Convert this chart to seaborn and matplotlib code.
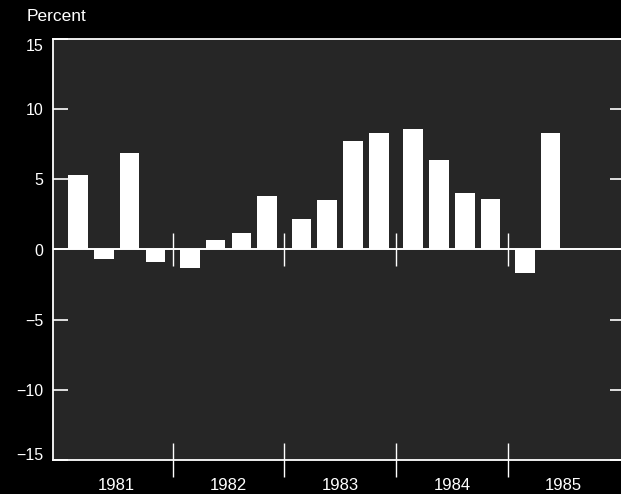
import matplotlib
matplotlib.use("Agg")
import matplotlib.pyplot as plt
import matplotlib.transforms as mtransforms
import seaborn as sns
import numpy as np
import pandas as pd

# ---- data ----
years = ["1981", "1982", "1983", "1984", "1985"]
quarters_per_year = [4, 4, 4, 4, 2]
values_1981 = [5.3, -0.7, 6.9, -0.9]
values_1982 = [-1.3, 0.7, 1.2, 3.8]
values_1983 = [2.2, 3.5, 7.7, 8.3]
values_1984 = [8.6, 6.4, 4.0, 3.6]
values_1985 = [-1.7, 8.3]
y_ticks = [-15, -10, -5, 0, 5, 10, 15]
y_label = "Percent"

all_values = [values_1981, values_1982, values_1983, values_1984, values_1985]

# ---- layout constants ----
YEAR_STEP = 4.33   # spacing between year groups, in quarter units
BAR_W = 0.76

rows = []
for yi, (yr, vals) in enumerate(zip(years, all_values)):
    for q, v in enumerate(vals):
        rows.append({"pos": yi * YEAR_STEP + q, "value": v, "year": yr})
df = pd.DataFrame(rows)

sns.set_theme(style="white")
plt.rcParams["font.family"] = ["Liberation Sans", "DejaVu Sans"]

FG = "white"
fig = plt.figure(figsize=(6.21, 4.94), dpi=100, facecolor="black")
ax = fig.add_axes([53 / 621, 34 / 494, (625 - 53) / 621, (460 - 39) / 494])
ax.set_facecolor("#262626")

sns.barplot(data=df, x="pos", y="value", native_scale=True, color=FG,
            width=BAR_W, saturation=1, ax=ax, edgecolor="none", errorbar=None)

ax.set_xlim(-0.97, 21.2)
ax.set_ylim(-15, 15)

# zero line
ax.axhline(0, color=FG, lw=1.4, zorder=1)

# spines
for s in ["left", "top", "bottom"]:
    ax.spines[s].set_color(FG)
    ax.spines[s].set_linewidth(1.3)
ax.spines["right"].set_visible(False)

# y ticks
ax.set_yticks(y_ticks)
ax.set_yticklabels([str(t).replace("-", "\u2212") for t in y_ticks])
ax.tick_params(axis="y", which="major", direction="in", length=11, width=1.2,
               color=FG, labelcolor=FG, labelsize=11.5, pad=7,
               left=True, right=True, labelright=False)
# end labels sit slightly inside the frame
for lab, t in zip(ax.get_yticklabels(), y_ticks):
    if t == 15:
        lab.set_transform(lab.get_transform() +
                          mtransforms.ScaledTranslation(0, -6 / 100, fig.dpi_scale_trans))
    elif t == -15:
        lab.set_transform(lab.get_transform() +
                          mtransforms.ScaledTranslation(0, 6 / 100, fig.dpi_scale_trans))

# year labels centered on groups, separators as minor ticks
centers = [yi * YEAR_STEP + (n - 1) / 2 if n == 4 else yi * YEAR_STEP + 1.5
           for yi, n in enumerate(quarters_per_year)]
seps = [yi * YEAR_STEP + 3 + (YEAR_STEP - 3) / 2 for yi in range(len(years) - 1)]
ax.set_xticks(centers)
ax.set_xticklabels(years)
ax.set_xticks(seps, minor=True)
ax.tick_params(axis="x", which="major", length=0, labelcolor=FG,
               labelsize=12, pad=13)
ax.tick_params(axis="x", which="minor", direction="inout", length=24,
               width=1, color=FG, bottom=True)
ax.set_xlabel("")
ax.set_ylabel("")

# separators crossing the zero line
ax.vlines(seps, -1.15, 1.15, color=FG, lw=1, zorder=3)

fig.text(27 / 621, 1 - 21 / 494, y_label, color=FG, fontsize=12.5,
         ha="left", va="baseline")

fig.savefig("out.png", dpi=100, facecolor="black")
